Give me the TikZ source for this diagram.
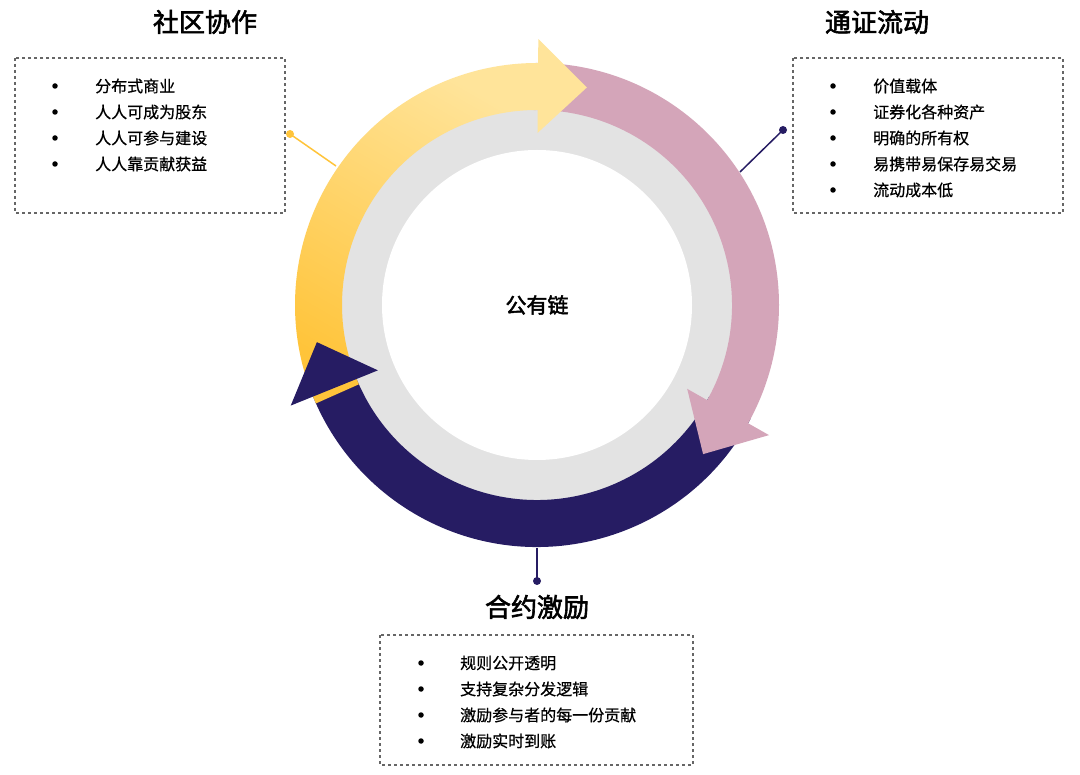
\documentclass[tikz,border=0pt]{standalone}
\usepackage{fontspec}
\setmainfont{Noto Sans CJK SC}[FakeBold=0.6]
\newfontfamily\cjkb{Noto Sans CJK SC}[FakeBold=2.2]
\begin{document}
\begin{tikzpicture}[x=1pt,y=-1pt,
  box/.style={draw=gray!80!black,dashed,line width=1.2pt},
  ttl/.style={font=\cjkb\fontsize{26}{30}\selectfont},
  itm/.style={anchor=west,font=\fontsize{16}{19}\selectfont,inner sep=0pt},
  bul/.style={circle,fill=black,inner sep=0pt,minimum size=5.5pt},
  dot/.style={circle,inner sep=0pt,minimum size=8pt}]
\useasboundingbox[fill=white] (0,0) rectangle (1080,775);
\definecolor{navy}{HTML}{261C63}
\definecolor{pinkc}{HTML}{D4A5B9}
\definecolor{yd}{HTML}{FFC43A}
\definecolor{yl}{HTML}{FFE49A}
\newcommand\ringbody[2]{%
  (#1:242) arc[start angle=#1,end angle=#2,radius=242] -- (#2:195) arc[start angle=#2,end angle=#1,radius=195] -- cycle}
\newcommand\ringhead[1]{%
  [rotate=-#1] (172,-1) -- (266,-1) -- (218,48) -- cycle}
\begin{scope}[shift={(537,305)}]
  \fill[gray!22] (0,0) circle[radius=196];
  \fill[white] (0,0) circle[radius=155];
  \fill[navy] \ringbody{28}{158.5};
  \fill[pinkc] \ringbody{-91}{29.5};
  \begin{scope}\fill[pinkc] \ringhead{29.5};\end{scope}
  \shade[top color=yl,bottom color=yd,shading angle=-30] \ringbody{156}{271};
  \begin{scope}\fill[yl] \ringhead{-89.5};\end{scope}
  \begin{scope}\fill[navy] \ringhead{158};\end{scope}
\end{scope}
\node[font=\cjkb\fontsize{21}{24}\selectfont] (c) at (537,305) {公有链};
\draw[box] (15,58) rectangle (285,213);
\draw[box] (793,58) rectangle (1063,213);
\draw[box] (380,635) rectangle (693,765);
\node[ttl] (t1) at (205,22) {社区协作};
\node[ttl] (t2) at (877,22) {通证流动};
\node[ttl] (t3) at (537,607) {合约激励};
\node[dot,fill=yd] (d1) at (290,134) {};
\node[dot,fill=navy] (d2) at (783,130) {};
\node[dot,fill=navy] (d3) at (537,581) {};
\coordinate (e1) at (336,166);
\coordinate (e2) at (740,172);
\coordinate (e3) at (537,548);
\draw[yd,line width=1.5pt] (d1.center) -- (e1);
\draw[navy,line width=1.5pt] (d2.center) -- (e2);
\draw[navy,line width=1.5pt] (d3.center) -- (e3);
\foreach \t [count=\i] in {分布式商业,人人可成为股东,人人可参与建设,人人靠贡献获益}{
  \node[bul] (b1\i) at (55,86+26*\i-26) {};
  \node[itm] (i1\i) at (95,86+26*\i-26) {\t};}
\foreach \t [count=\i] in {价值载体,证券化各种资产,明确的所有权,易携带易保存易交易,流动成本低}{
  \node[bul] (b2\i) at (833,86+26*\i-26) {};
  \node[itm] (i2\i) at (873,86+26*\i-26) {\t};}
\foreach \t [count=\i] in {规则公开透明,支持复杂分发逻辑,激励参与者的每一份贡献,激励实时到账}{
  \node[bul] (b3\i) at (421,663+26*\i-26) {};
  \node[itm] (i3\i) at (460,663+26*\i-26) {\t};}
\end{tikzpicture}
\end{document}
